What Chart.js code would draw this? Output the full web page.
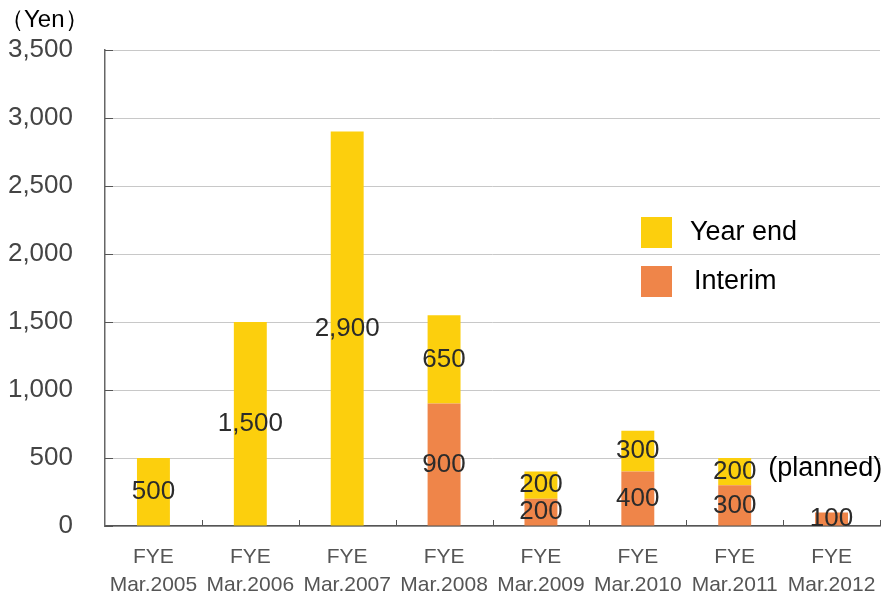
<!DOCTYPE html>
<html>
<head>
<meta charset="utf-8">
<script src="https://cdn.jsdelivr.net/npm/chart.js@4.4.1/dist/chart.umd.min.js"></script>
<style>
  html, body { margin: 0; padding: 0; background: #fff; }
  #wrap { width: 890px; height: 595px; }
</style>
</head>
<body>
<div id="wrap"><canvas id="divChart"></canvas></div>
<script>
// dữ liệu cổ tức
const years = ['Mar.2005', 'Mar.2006', 'Mar.2007', 'Mar.2008', 'Mar.2009', 'Mar.2010', 'Mar.2011', 'Mar.2012'];
const interim = [0, 0, 0, 900, 200, 400, 300, 100];
const yearEnd = [500, 1500, 2900, 650, 200, 300, 200, 0];
const yTicks = [0, 500, 1000, 1500, 2000, 2500, 3000, 3500];

const FONT = '"Liberation Sans", Arial, sans-serif';

// vẽ nhãn giá trị, chú thích, đơn vị
const extras = {
  id: 'extras',
  afterDatasetsDraw(chart) {
    const ctx = chart.ctx;
    ctx.save();
    ctx.font = '26px ' + FONT;
    ctx.fillStyle = '#2b2b2b';
    ctx.textAlign = 'center';
    ctx.textBaseline = 'middle';
    chart.data.datasets.forEach((ds, di) => {
      const meta = chart.getDatasetMeta(di);
      meta.data.forEach((bar, i) => {
        const v = ds.data[i];
        if (!v) return;
        const yc = (bar.y + bar.base) / 2;
        ctx.fillText(v.toLocaleString('en-US'), bar.x, yc);
      });
    });

    // (planned) bên cạnh cột Mar.2011
    const yeMeta = chart.getDatasetMeta(1);
    const b = yeMeta.data[6];
    ctx.textAlign = 'left';
    ctx.fillStyle = '#000';
    ctx.font = '27px ' + FONT;
    ctx.fillText('(planned)', b.x + b.width / 2 + 17, (b.y + b.base) / 2 - 3);

    // đơn vị
    ctx.font = '24px ' + FONT;
    ctx.fillText('（Yen）', 0, 20);

    // chú thích
    const legendItems = [chart.data.datasets[1], chart.data.datasets[0]];
    ctx.font = '27px ' + FONT;
    legendItems.forEach((ds, k) => {
      const y = 217 + k * 49;
      ctx.fillStyle = ds.backgroundColor;
      ctx.fillRect(641, y, 31, 31);
      ctx.fillStyle = '#000';
      ctx.fillText(ds.label, 690 + (k === 1 ? 4 : 0), y + 16);
    });

    // vạch chia trục x
    const xs = chart.scales.x;
    const area = chart.chartArea;
    const step = xs.getPixelForTick(1) - xs.getPixelForTick(0);
    ctx.strokeStyle = '#555';
    ctx.lineWidth = 1;
    for (let i = 1; i <= years.length; i++) {
      const x = Math.round(xs.getPixelForTick(0) - step / 2 + step * i) + 0.5;
      ctx.beginPath();
      ctx.moveTo(x, area.bottom);
      ctx.lineTo(x, area.bottom - 6);
      ctx.stroke();
    }
    // vạch chia trục y (hướng vào trong)
    const ys = chart.scales.y;
    yTicks.forEach(v => {
      const y = Math.round(ys.getPixelForValue(v)) + 0.5;
      ctx.beginPath();
      ctx.moveTo(area.left, y);
      ctx.lineTo(area.left + 8, y);
      ctx.stroke();
    });
    ctx.restore();
  }
};

new Chart(document.getElementById('divChart'), {
  type: 'bar',
  data: {
    labels: years.map(y => ['FYE', y]),
    datasets: [
      {
        label: 'Interim',
        data: interim,
        backgroundColor: '#EF8549',
        barPercentage: 0.34,
        categoryPercentage: 1
      },
      {
        label: 'Year end',
        data: yearEnd,
        backgroundColor: '#FCCF0D',
        barPercentage: 0.34,
        categoryPercentage: 1
      }
    ]
  },
  options: {
    responsive: true,
    maintainAspectRatio: false,
    animation: false,
    layout: { padding: { top: 50, right: 10, left: 0, bottom: 0 } },
    plugins: {
      legend: { display: false },
      tooltip: { enabled: false }
    },
    scales: {
      x: {
        stacked: true,
        grid: { display: false },
        border: { color: '#555', width: 1.5 },
        ticks: {
          color: '#555',
          font: { family: FONT, size: 21, lineHeight: 1.3 },
          padding: 10,
          maxRotation: 0
        },
        afterFit(scale) { scale.height = 69; }
      },
      y: {
        stacked: true,
        min: 0,
        max: 3500,
        afterBuildTicks(scale) { scale.ticks = yTicks.map(v => ({ value: v })); },
        grid: {
          color: '#c8c8c8',
          tickLength: 0,
          drawTicks: false
        },
        border: { color: '#666', width: 1.5 },
        ticks: {
          color: '#444',
          font: { family: FONT, size: 26 },
          padding: 32,
          callback: v => v.toLocaleString('en-US')
        },
        afterFit(scale) { scale.width = 105; }
      }
    }
  },
  plugins: [extras]
});
</script>
</body>
</html>
